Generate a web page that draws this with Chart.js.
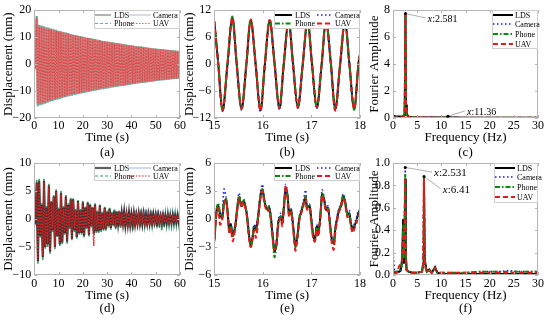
<!DOCTYPE html>
<html><head><meta charset="utf-8">
<script src="https://cdn.jsdelivr.net/npm/chart.js@4.4.1/dist/chart.umd.min.js"></script>
<style>
html,body{margin:0;padding:0;background:#fff;}
#wrap{position:relative;width:550px;height:321px;overflow:hidden;background:#fff;}
canvas{position:absolute;left:0;top:0;}
</style></head><body><div id="wrap">
<canvas id="ca" width="550" height="321"></canvas>
<canvas id="cb" width="550" height="321"></canvas>
<canvas id="cc" width="550" height="321"></canvas>
<canvas id="cd" width="550" height="321"></canvas>
<canvas id="ce" width="550" height="321"></canvas>
<canvas id="cf" width="550" height="321"></canvas>
</div>
<script>
// ---------------- DATA ----------------
const seriesNames = ['LDS','Camera','Phone','UAV'];

const time60 = [0,0.5,1,1.5,2,2.5,3,3.5,4,4.5,5,5.5,6,6.5,7,7.5,8,8.5,9,9.5,
10,10.5,11,11.5,12,12.5,13,13.5,14,14.5,15,15.5,16,16.5,17,17.5,18,18.5,19,19.5,
20,20.5,21,21.5,22,22.5,23,23.5,24,24.5,25,25.5,26,26.5,27,27.5,28,28.5,29,29.5,
30,30.5,31,31.5,32,32.5,33,33.5,34,34.5,35,35.5,36,36.5,37,37.5,38,38.5,39,39.5,
40,40.5,41,41.5,42,42.5,43,43.5,44,44.5,45,45.5,46,46.5,47,47.5,48,48.5,49,49.5,
50,50.5,51,51.5,52,52.5,53,53.5,54,54.5,55,55.5,56,56.5,57,57.5,58,58.5,59,59.5,60];

// (a) free vibration, peaks
const LDS_a = [0,0.8,17.2,-15,14,-14.8,13.8,-14.5,13.6,-14.2,13.3,-13.8,13.1,-13.5,12.9,-13.2,12.6,-12.9,12.4,-12.7,
12.1,-12.4,11.9,-12.2,11.7,-12,11.5,-11.7,11.3,-11.5,11,-11.3,10.8,-11.1,10.6,-10.9,10.4,-10.7,10.2,-10.5,
10,-10.3,9.8,-10.1,9.7,-9.9,9.5,-9.8,9.3,-9.6,9.1,-9.5,8.9,-9.3,8.8,-9.1,8.6,-9,8.4,-8.8,
8.3,-8.7,8.1,-8.5,8,-8.4,7.8,-8.2,7.7,-8.1,7.5,-7.9,7.4,-7.8,7.3,-7.7,7.1,-7.5,7,-7.4,
6.9,-7.3,6.7,-7.1,6.6,-7,6.5,-6.9,6.4,-6.8,6.3,-6.6,6.1,-6.5,6,-6.4,5.9,-6.3,5.8,-6.2,
5.7,-6.1,5.6,-6,5.5,-5.9,5.4,-5.8,5.3,-5.7,5.2,-5.6,5.1,-5.5,5,-5.4,4.9,-5.3,4.8,-5.2,4.7];
const Camera_a = [0.3,-0.5,15.5,-14.6,13.7,-14.5,13.6,-14.2,13.3,-13.9,13.1,-13.6,12.8,-13.2,12.6,-13,12.4,-12.7,12.1,-12.5,
11.9,-12.2,11.7,-11.9,11.4,-11.8,11.3,-11.5,11.1,-11.3,10.8,-11.1,10.6,-10.9,10.4,-10.7,10.2,-10.5,10,-10.3,
9.8,-10.1,9.6,-9.9,9.5,-9.7,9.3,-9.6,9.1,-9.4,8.9,-9.3,8.7,-9.1,8.6,-8.9,8.4,-8.8,8.2,-8.6,
8.1,-8.5,7.9,-8.3,7.8,-8.2,7.6,-8,7.5,-7.9,7.3,-7.7,7.2,-7.6,7.1,-7.5,6.9,-7.3,6.8,-7.2,
6.7,-7.1,6.5,-6.9,6.4,-6.8,6.3,-6.7,6.2,-6.6,6.1,-6.4,5.9,-6.3,5.8,-6.2,5.7,-6.1,5.6,-6,
5.5,-5.9,5.4,-5.8,5.3,-5.7,5.2,-5.6,5.1,-5.5,5,-5.4,4.9,-5.3,4.8,-5.2,4.7,-5.1,4.6,-5,4.5];
const Phone_a = [-0.4,0.6,17.8,-15.6,14.6,-15.3,14.3,-15,14,-14.7,13.7,-14.3,13.5,-14,13.2,-13.7,12.9,-13.4,12.7,-13.2,
12.4,-12.9,12.2,-12.7,11.9,-12.4,11.7,-12.1,11.5,-11.9,11.2,-11.7,11,-11.5,10.8,-11.3,10.6,-11.1,10.4,-10.9,
10.2,-10.7,10,-10.5,9.8,-10.3,9.7,-10.2,9.5,-10,9.3,-9.8,9.1,-9.6,8.9,-9.4,8.7,-9.3,8.6,-9.1,
8.4,-9,8.3,-8.8,8.1,-8.7,8,-8.5,7.8,-8.4,7.7,-8.2,7.5,-8.1,7.4,-8,7.3,-7.8,7.1,-7.7,
7,-7.5,6.9,-7.4,6.7,-7.3,6.6,-7.1,6.5,-7,6.4,-6.9,6.2,-6.8,6.1,-6.6,6,-6.5,5.9,-6.4,
5.8,-6.3,5.7,-6.2,5.6,-6.1,5.5,-6,5.4,-5.9,5.3,-5.8,5.2,-5.7,5.1,-5.6,5,-5.5,4.9,-5.4,4.8];
const UAV_a = [0.5,-1,16.8,-14.8,13.9,-14.6,13.7,-14.3,13.4,-14,13.2,-13.7,13,-13.4,12.7,-13.1,12.5,-12.8,12.3,-12.6,
12,-12.3,11.8,-12.1,11.6,-11.9,11.4,-11.6,11.2,-11.4,10.9,-11.2,10.7,-11,10.5,-10.8,10.3,-10.6,10.1,-10.4,
9.9,-10.2,9.7,-10,9.6,-9.8,9.4,-9.7,9.2,-9.5,9,-9.4,8.8,-9.2,8.7,-9,8.5,-8.9,8.3,-8.7,
8.2,-8.6,8,-8.4,7.9,-8.3,7.7,-8.1,7.6,-8,7.4,-7.8,7.3,-7.7,7.2,-7.6,7,-7.4,6.9,-7.3,
6.8,-7.2,6.6,-7,6.5,-6.9,6.4,-6.8,6.3,-6.7,6.2,-6.5,6,-6.4,5.9,-6.3,5.8,-6.2,5.7,-6.1,
5.6,-6,5.5,-5.9,5.4,-5.8,5.3,-5.7,5.2,-5.6,5.1,-5.5,5,-5.4,4.9,-5.3,4.8,-5.2,4.7,-5.1,4.6];

// (b) zoom 15-18 s
const timeB = [15.00,15.08,15.17,15.27,15.37,15.46,15.56,15.66,15.75,15.85,15.95,16.04,16.14,16.24,16.34,16.43,16.53,
16.62,16.72,16.82,16.92,17.01,17.11,17.21,17.30,17.40,17.49,17.59,17.69,17.78,17.88,17.97,18.00];
const LDS_b = [9.4,0.3,-10.3,-0.2,10.2,0.2,-10.0,-0.1,9.8,0.1,-10.3,-0.2,9.7,0.2,-9.9,-0.1,9.6,0.1,-9.6,-0.2,9.6,0.2,-9.7,-0.1,9.5,0.1,-10.0,-0.2,9.4,0.2,-9.9,0.3,2.0];
const Camera_b = [9.2,0.1,-10.5,-0.3,10.0,0.0,-10.2,-0.2,9.6,0.0,-10.6,-0.3,9.5,0.1,-10.1,-0.2,9.4,0.0,-9.8,-0.3,9.4,0.1,-9.9,-0.2,9.3,0.0,-10.2,-0.3,9.2,0.1,-10.1,0.2,1.8];
const Phone_b = [9.5,0.4,-10.1,0.0,10.6,0.4,-9.8,0.1,10.0,0.3,-10.0,0.0,9.9,0.3,-9.7,0.1,9.8,0.3,-9.4,0.0,9.8,0.3,-9.5,0.1,9.7,0.3,-9.8,0.0,9.6,0.3,-10.2,0.4,2.1];
const UAV_b = [9.6,0.2,-10.2,-0.2,10.3,0.2,-9.9,-0.1,9.9,0.1,-10.4,-0.2,9.8,0.2,-9.8,-0.1,9.7,0.1,-9.7,-0.2,9.7,0.2,-9.6,-0.1,9.6,0.1,-10.4,-0.2,9.5,0.2,-10.0,0.3,2.2];

// (c) spectrum
const freqC = [0,0.5,1,1.5,2,2.3,2.45,2.581,2.7,2.85,3.2,4,5,6,7,7.8,8.5,10,11,11.36,11.8,13,15,18,21,24,27,30];
const LDS_c = [0.15,0.13,0.12,0.11,0.1,0.22,1.6,7.7,1.0,0.3,0.1,0.05,0.04,0.03,0.03,0.04,0.03,0.03,0.05,0.13,0.04,0.03,0.02,0.02,0.02,0.02,0.02,0.02];
const Camera_c = [0.1,0.08,0.07,0.06,0.06,0.15,1.5,7.75,1.0,0.25,0.08,0.04,0.03,0.03,0.04,0.1,0.03,0.03,0.04,0.1,0.03,0.03,0.02,0.02,0.02,0.02,0.02,0.02];
const Phone_c = [0.05,0.05,0.04,0.04,0.05,0.12,1.5,7.7,0.9,0.2,0.06,0.04,0.03,0.03,0.03,0.04,0.03,0.03,0.04,0.08,0.03,0.03,0.02,0.02,0.02,0.02,0.02,0.02];
const UAV_c = [0.04,0.04,0.04,0.04,0.05,0.1,1.4,7.72,0.9,0.2,0.05,0.03,0.03,0.03,0.03,0.03,0.03,0.03,0.03,0.07,0.03,0.02,0.02,0.02,0.02,0.02,0.02,0.02];

// (d) second record, 0-60 s
const LDS_d = [0,-0.5,6.5,-7.5,6.8,-3,2.5,-6.8,6.8,-5,2,-4.5,6,-5.8,3,-2,4,-5,5,-3,
1.8,-4.5,4.6,-4.2,2,-2.5,4,-4,2.5,-1.5,3.5,-3.5,3.5,-2,1.5,-3.2,3.2,-2.5,1.5,-2.5,
3,-3,2,-1.5,2.9,-2.8,2.5,-1.2,2,-2.6,2.6,-2.2,1.2,-2.2,2.4,-2,1,-1.8,2,-1.8,
1.2,-1.2,1.8,-1.6,1,-1,1.5,-1.5,1.2,-0.8,1.3,-1.3,1,-0.8,1.2,-1.1,0.8,-1,1.1,-1,
0.8,-0.9,1,-0.9,0.7,-0.8,0.9,-0.8,0.7,-0.8,0.9,-0.7,0.6,-0.8,0.8,-0.7,0.6,-0.7,0.8,-0.6,
0.6,-0.7,0.7,-0.6,0.5,-0.6,0.7,-0.6,0.5,-0.6,0.6,-0.5,0.5,-0.6,0.6,-0.5,0.5,-0.5,0.6,-0.5,0.4];
const Camera_d = [0.3,-0.3,6.2,-7.2,6.5,-3.2,2.8,-6.5,6.6,-4.8,2.2,-4.6,5.8,-5.6,3.2,-2.2,4.2,-4.8,4.8,-3.2,
2,-4.3,4.4,-4,2.2,-2.7,3.8,-3.8,2.7,-1.7,3.3,-3.3,3.4,-2.2,1.7,-3,3,-2.6,1.7,-2.4,
2.8,-2.8,2.2,-1.7,2.7,-2.6,2.4,-1.4,2.1,-2.4,2.5,-2,1.4,-2,2.2,-1.9,1.3,-1.7,1.9,-1.6,
1.4,-1.3,1.7,-1.5,1.2,-1.1,1.4,-1.4,1.3,-1,1.4,-1.2,1.2,-1,1.3,-1.2,1.1,-1.1,1.3,-1.2,
1.2,-1.1,1.4,-1,1.6,-1.2,1.5,-1.1,1.7,-1,1.8,-1.2,1.7,-1.1,1.6,-1.2,1.5,-1,1.4,-1.1,
1.5,-1.2,1.6,-1.1,1.4,-1,1.2,-1.1,1.1,-1,1.2,-0.9,1,-1,1.1,-0.9,1.2,-1,1.3,-1,1.9,-1.2,1];
const Phone_d = [-0.3,0.2,7,-8,7.2,-3.3,2.8,-7.3,7.2,-5.3,2.3,-5,6.3,-6.2,3.2,-2.3,4.3,-5.4,5.3,-3.2,
2,-4.8,5,-4.5,2.3,-2.8,4.3,-4.4,2.8,-1.8,3.8,-3.8,3.7,-2.3,1.8,-3.5,3.4,-2.8,1.8,-2.8,
3.2,-3.3,2.2,-1.8,3.1,-3.1,2.7,-1.5,2.2,-2.8,2.8,-2.5,1.5,-2.5,2.6,-2.3,1.3,-2.1,2.2,-2.1,
1.5,-1.5,2,-1.9,1.3,-1.3,1.7,-1.8,1.4,-1.1,1.5,-1.6,1.2,-1.2,1.4,-1.5,1,-1.4,1.3,-1.6,
1,-2,1.2,-1.4,0.9,-1.2,1.1,-1.3,0.9,-1.1,1.1,-1.2,0.8,-1.3,1,-1.1,0.8,-1.2,1,-1.3,
0.8,-1.4,0.9,-1.5,0.8,-2,0.9,-1.4,0.8,-1.2,0.9,-1.1,0.8,-1.2,0.9,-1,0.8,-1.1,0.9,-1,0.7];
const UAV_d = [-0.8,1,6.2,-7.3,6.6,-2.8,2.3,-6.6,6.6,-4.8,1.8,-4.3,5.8,-5.6,2.8,-1.8,3.8,-4.8,4.8,-2.8,
1.7,-4.3,4.4,-4,1.8,-2.3,3.8,-3.8,2.3,-1.4,3.3,-3.3,3.3,-1.8,1.4,-3,3,-2.3,1.4,-2.3,
2.8,-2.8,1.8,-1.4,2.7,-2.6,2.3,-1.1,1.9,-4.8,2.4,-2,1.1,-2,2.2,-1.8,1,-1.7,1.8,-1.7,
1.1,-1.1,1.6,-1.5,1,-0.9,1.4,-1.4,1.1,-0.8,1.2,-1.2,0.9,-0.8,1.1,-1,0.8,-0.9,1,-0.9,
0.8,-0.9,0.9,-0.8,0.7,-0.8,0.8,-0.8,0.7,-0.7,0.8,-0.7,0.6,-0.8,0.8,-0.7,0.6,-0.7,0.7,-0.6,
0.6,-0.7,0.7,-0.6,0.5,-0.6,0.6,-0.6,0.5,-0.6,0.6,-0.5,0.5,-0.6,0.6,-0.5,0.5,-0.5,0.6,-0.5,0.4];

// (e) zoom 15-18 s of second record
const timeE = [15.00,15.05,15.08,15.12,15.16,15.20,15.24,15.27,15.31,15.34,
15.38,15.43,15.47,15.51,15.56,15.61,15.67,15.71,15.75,15.79,
15.82,15.86,15.91,15.95,15.99,16.04,16.09,16.13,16.17,16.21,
16.24,16.28,16.32,16.37,16.40,16.44,16.47,16.51,16.54,16.58,
16.63,16.67,16.71,16.75,16.78,16.83,16.88,16.91,16.96,16.99,
17.04,17.07,17.11,17.14,17.18,17.22,17.26,17.30,17.34,17.38,
17.42,17.46,17.49,17.53,17.57,17.61,17.65,17.69,17.74,17.78,
17.81,17.85,17.88,17.93,17.96,18.00];
const LDS_e = [-2.2,1.0,1.4,0.5,0.1,1.7,2.1,1.0,-1.3,-0.6,
-1.7,-0.8,1.0,2.3,1.4,1.9,0.5,-1.5,-2.8,-1.9,
-0.8,-1.1,0.6,2.4,3.1,1.7,1.0,1.2,-0.1,-2.2,
-3.5,-2.6,-0.3,0.3,-0.4,1.7,3.3,2.4,0.5,1.0,
-1.1,-2.9,-1.9,0.1,0.6,1.5,2.3,1.2,1.4,0.3,
-1.9,-2.2,-0.8,-1.5,0.1,2.6,2.1,1.0,1.2,-0.4,
-2.2,-2.6,-1.1,0.1,1.0,1.4,2.4,1.9,0.5,0.6,
-0.4,-1.1,-0.8,-0.1,0.5,1.0];
const Camera_e = [-2.0,1.2,1.5,0.6,0.3,3.2,2.4,1.1,-1.2,-0.5,
-1.5,-0.6,1.3,2.8,1.6,2.1,0.7,-1.3,-2.6,-1.7,
-0.6,-0.9,0.9,2.9,3.7,1.9,1.2,1.4,0.1,-2.0,
-3.2,-2.3,-0.1,0.6,-0.2,2.0,3.7,2.7,0.7,1.2,
-0.9,-2.7,-1.7,0.3,0.9,1.8,3.1,1.5,1.6,0.5,
-1.7,-2.0,-0.6,-1.3,0.3,3.1,2.4,1.2,1.4,-0.2,
-2.0,-2.4,-0.9,0.3,1.2,1.6,2.7,2.1,0.7,0.9,
-0.2,-0.9,-0.6,0.2,0.8,1.0];
const Phone_e = [-2.3,1.1,1.7,0.6,0.1,1.8,2.2,1.0,-1.4,-0.7,
-1.9,-0.9,1.0,2.5,1.5,2.0,0.4,-1.6,-3.0,-2.0,
-0.9,-1.2,0.6,2.5,3.2,1.8,1.0,1.3,-0.2,-2.5,
-4.1,-2.8,-0.4,0.3,-0.5,1.8,3.4,2.4,0.4,1.0,
-1.2,-3.0,-2.0,0.0,0.6,1.6,2.4,1.2,1.5,0.2,
-2.0,-2.4,-0.9,-1.6,0.0,2.7,2.2,1.0,1.3,-0.5,
-2.3,-2.8,-1.2,0.0,1.0,1.5,2.5,2.0,0.4,0.6,
-0.5,-1.2,-0.9,-0.2,0.4,0.9];
const UAV_e = [-2.4,0.8,1.2,-0.6,-0.2,1.5,2.0,0.8,-1.6,-1.0,
-2.4,-1.0,0.8,2.2,1.2,1.8,0.3,-1.8,-3.0,-2.2,
-1.2,-2.0,0.3,2.2,3.0,1.5,0.8,1.0,-0.4,-2.5,
-3.3,-2.9,-0.6,0.1,-0.8,1.5,3.6,2.2,0.2,0.8,
-1.4,-3.4,-2.2,-0.2,0.4,1.3,2.2,1.0,1.2,0.0,
-2.2,-2.4,-1.1,-1.9,-0.2,2.5,1.9,0.8,1.0,-0.7,
-2.6,-3.3,-1.5,-0.2,0.8,1.2,2.2,1.7,0.2,0.3,
-0.7,-1.5,-1.1,-0.4,0.2,0.7];

// (f) spectrum of second record
const freqF = [0,0.3,0.8,1.3,1.6,1.9,2.1,2.25,2.4,2.531,2.65,2.8,3.2,4,5,6,6.25,6.41,6.55,6.7,7,7.5,8,8.7,9.2,10,12,15,18,20,22,24,26,28,30];
const LDS_f = [0.02,0.02,0.03,0.03,0.04,0.15,0.5,0.1,0.3,0.86,0.2,0.05,0.03,0.02,0.02,0.03,0.1,0.87,0.15,0.1,0.03,0.05,0.02,0.07,0.02,0.01,0.01,0.01,0.01,0.01,0.01,0.01,0.01,0.01,0.01];
const Camera_f = [0.2,0.05,0.03,0.03,0.04,0.1,0.4,0.2,0.5,0.96,0.2,0.05,0.03,0.02,0.02,0.03,0.1,0.88,0.15,0.08,0.03,0.04,0.02,0.06,0.02,0.02,0.02,0.02,0.03,0.03,0.03,0.04,0.03,0.03,0.03];
const Phone_f = [0.04,0.03,0.03,0.04,0.05,0.1,0.45,0.15,0.4,0.9,0.2,0.05,0.03,0.02,0.02,0.03,0.1,0.88,0.15,0.08,0.03,0.04,0.02,0.06,0.02,0.02,0.02,0.02,0.03,0.03,0.03,0.03,0.03,0.03,0.03];
const UAV_f = [0.01,0.01,0.02,0.08,0.1,0.12,0.35,0.2,0.45,0.87,0.15,0.04,0.03,0.02,0.02,0.03,0.1,0.86,0.12,0.07,0.03,0.04,0.02,0.06,0.02,0.02,0.02,0.02,0.02,0.02,0.02,0.02,0.02,0.02,0.02];

// peak labels
const peaksC = [{x:2.581, y:7.75, label:':2.581'}, {x:11.36, y:0.13, label:':11.36'}];
const peaksF = [{x:2.531, y:0.96, label:':2.531'}, {x:6.41, y:0.88, label:':6.41'}];

// ---------------- STYLE / LAYOUT ----------------
const FONT = "'Liberation Serif','Times New Roman',serif";
const thinA = [
  {c:'#cc8080', w:2.6, d:[]}, {c:'#a6b4c0', w:1.2, d:[]},
  {c:'#55b09c', w:2.2, d:[]}, {c:'#e04848', w:1.3, d:[1.5,1.5]}];
const thinD = [
  {c:'#3c3434', w:2.2, d:[]}, {c:'#8d96e0', w:1.4, d:[]},
  {c:'#3a9a6a', w:1.6, d:[]}, {c:'#e02020', w:1.4, d:[1.5,1.5]}];
const bold = [
  {c:'#000000', w:2, d:[]}, {c:'#1c1cd0', w:1.6, d:[1.5,2.5]},
  {c:'#0a8a0a', w:2, d:[5,2,1.5,2]}, {c:'#e41a1a', w:2, d:[5,3]}];
const legA = ['#666666','#b8b8c4','#5fb3a0','#e26a6a'];
const legD = ['#606060','#a8b0e8','#3a9a6a','#e02020'];
const dashA = [[],[],[3,2],[1.5,1.5]];
const orderThin = [4,6,5,1];
const orderBold = [4,3,2,1];

const cols = [{pl:0.8, yw:33.5, pr:370}, {pl:181.8, yw:32.5, pr:190}, {pl:367.5, yw:25.5, pr:12}];
const rows = [{pt:9, xh:42.5, pb:160.5, lh:1.15, tp:1}, {pt:163, xh:39.8, pb:6.2, lh:1.0, tp:1.3}];

const leg2 = (w,h,r0,r1,c1,l0,l1,pal,lw) => ({w:w, h:h, fs:8, pal:pal, lw:lw, dash: pal ? dashA : null, items:[
  {x0:1, x1:l0, tx:l0+3, y:r0}, {x0:c1, x1:c1+l1, tx:c1+l1+2, y:r0},
  {x0:1, x1:l0, tx:l0+3, y:r1}, {x0:c1, x1:c1+l1, tx:c1+l1+2, y:r1}]});
const leg4 = (w,h,ys) => ({w:w, h:h, fs:8, items: ys.map(y => ({x0:1, x1:21, tx:23, y:y}))});

const fmtMinus = v => (v < 0 ? '\u2212' + Math.abs(v) : String(v));

const panels = [
  {id:'ca', col:0, row:0, xs:time60, ys:[LDS_a,Camera_a,Phone_a,UAV_a], st:thinA, ord:orderThin, tension:0,
   x:[0,60,10], y:[-20,20,10], xt:['Time (s)','(a)'], yt:'Displacement (mm)', leg:leg2(86,19,5,13.5,33,17,24,legA,[1,1,1,1])},
  {id:'cb', col:1, row:0, xs:timeB, ys:[LDS_b,Camera_b,Phone_b,UAV_b], st:bold, ord:orderBold, tension:0.35,
   x:[15,18,1], y:[-12,12,6], xt:['Time (s)','(b)'], yt:'Displacement (mm)', leg:leg2(86,19,5,13.5,43,18,16)},
  {id:'cc', col:2, row:0, xs:freqC, ys:[LDS_c,Camera_c,Phone_c,UAV_c], st:bold, ord:orderBold, tension:0,
   x:[0,30,5], y:[0,8,2], xt:['Frequency (Hz)','(c)'], yt:'Fourier Amplitude', leg:leg4(46,39,[5,14,24,34]),
   notes:{pts:peaksC, fs:10, pos:[[7.2,7.35],[15.3,0.45]]}},
  {id:'cd', col:0, row:1, xs:time60, ys:[LDS_d,Camera_d,Phone_d,UAV_d], st:thinD, ord:orderThin, tension:0,
   x:[0,60,10], y:[-10,10,5], xt:['Time (s)','(d)'], yt:'Displacement (mm)', leg:leg2(86,18,5,13,33,17,24,legD,[2.2,1,1,1.2])},
  {id:'ce', col:1, row:1, xs:timeE, ys:[LDS_e,Camera_e,Phone_e,UAV_e], st:bold, ord:orderBold, tension:0.3,
   x:[15,18,1], y:[-6,6,3], xt:['Time (s)','(e)'], yt:'Displacement (mm)', leg:leg2(86,18,5,13,43,18,16)},
  {id:'cf', col:2, row:1, xs:freqF, ys:[LDS_f,Camera_f,Phone_f,UAV_f], st:bold, ord:orderBold, tension:0,
   x:[0,30,5], y:[0,1,0.2], xt:['Frequency (Hz)','(f)'], yt:'Fourier Amplitude', leg:leg4(44,40,[5,14,24,34]),
   notes:{pts:peaksF, fs:11, pos:[[8.5,0.91],[10.3,0.76]]}, yfmt: v => v.toFixed(1)}
];

// ---------------- PLUGINS ----------------
const framePlugin = {
  id:'frame',
  afterDatasetsDraw(chart) {
    const {ctx, chartArea:a, scales} = chart;
    ctx.save();
    ctx.strokeStyle = '#b4b4b4'; ctx.lineWidth = 1; ctx.setLineDash([]);
    ctx.strokeRect(Math.round(a.left)+0.5, Math.round(a.top)+0.5, Math.round(a.right-a.left)-1, Math.round(a.bottom-a.top)-1);
    ctx.beginPath();
    const xs = scales.x, ys = scales.y;
    xs.ticks.forEach((t,i) => { const p = Math.round(xs.getPixelForTick(i))+0.5;
      ctx.moveTo(p, a.bottom); ctx.lineTo(p, a.bottom-3); ctx.moveTo(p, a.top); ctx.lineTo(p, a.top+3); });
    ys.ticks.forEach((t,i) => { const p = Math.round(ys.getPixelForTick(i))+0.5;
      ctx.moveTo(a.left, p); ctx.lineTo(a.left+3, p); ctx.moveTo(a.right, p); ctx.lineTo(a.right-3, p); });
    ctx.stroke();
    ctx.restore();
  }
};
const notesPlugin = {
  id:'notes',
  afterDatasetsDraw(chart, args, o) {
    if (!o || !o.pts) return;
    const {ctx, scales:{x, y}} = chart;
    ctx.save();
    o.pts.forEach((p, i) => {
      const px = x.getPixelForValue(p.x), py = y.getPixelForValue(p.y);
      const tx = x.getPixelForValue(o.pos[i][0]), ty = y.getPixelForValue(o.pos[i][1]);
      ctx.strokeStyle = '#9a9a9a'; ctx.lineWidth = 0.8; ctx.setLineDash([]);
      ctx.beginPath(); ctx.moveTo(px, py); ctx.lineTo(tx - 2, ty - 1); ctx.stroke();
      ctx.fillStyle = '#000'; ctx.beginPath(); ctx.arc(px, py, 1.5, 0, Math.PI*2); ctx.fill();
      ctx.textBaseline = 'middle';
      ctx.font = 'italic ' + o.fs + 'px ' + FONT;
      ctx.fillText('x', tx, ty);
      const w = ctx.measureText('x').width;
      ctx.font = o.fs + 'px ' + FONT;
      ctx.fillText(p.label, tx + w, ty);
    });
    ctx.restore();
  }
};
const legendPlugin = {
  id:'boxLegend',
  afterDraw(chart, args, o) {
    if (!o || !o.items) return;
    const {ctx, chartArea:a} = chart;
    const bx = Math.round(a.right - o.w), by = Math.round(a.top);
    ctx.save();
    ctx.fillStyle = '#fff'; ctx.fillRect(bx, by, o.w, o.h);
    ctx.strokeStyle = '#c4c4c4'; ctx.lineWidth = 0.8; ctx.setLineDash([]);
    ctx.strokeRect(bx+0.5, by+0.5, o.w-1, o.h-1);
    ctx.font = o.fs + 'px ' + FONT; ctx.textBaseline = 'middle';
    o.items.forEach((it, i) => {
      const ds = chart.data.datasets[i];
      const yy = by + it.y;
      ctx.beginPath(); ctx.setLineDash(o.dash ? o.dash[i] : (ds.borderDash || []));
      ctx.strokeStyle = o.pal ? o.pal[i] : ds.borderColor;
      ctx.lineWidth = o.lw ? o.lw[i] : Math.max(ds.borderWidth, 1.2);
      ctx.moveTo(bx + it.x0, yy); ctx.lineTo(bx + it.x1, yy); ctx.stroke();
      ctx.setLineDash([]); ctx.fillStyle = '#000';
      ctx.fillText(ds.label, bx + it.tx, yy + 0.5);
    });
    ctx.restore();
  }
};

// ---------------- BUILD ----------------
panels.forEach(p => {
  const c = cols[p.col], r = rows[p.row];
  const datasets = p.ys.map((vals, k) => ({
    label: seriesNames[k],
    data: vals.map((v, i) => ({x: p.xs[i], y: v})),
    borderColor: p.st[k].c, borderWidth: p.st[k].w, borderDash: p.st[k].d,
    pointRadius: 0, fill: false, tension: p.tension, order: p.ord[k]
  }));
  new Chart(document.getElementById(p.id), {
    type: 'line',
    data: {datasets},
    plugins: [framePlugin, notesPlugin, legendPlugin],
    options: {
      responsive: false, animation: false, devicePixelRatio: 1, parsing: true,
      layout: {padding: {left: c.pl, right: c.pr, top: r.pt, bottom: r.pb}},
      plugins: {legend: {display: false}, tooltip: {enabled: false}, boxLegend: p.leg, notes: p.notes || {}},
      scales: {
        x: {type: 'linear', min: p.x[0], max: p.x[1],
            ticks: {stepSize: p.x[2], color: '#000', font: {family: FONT, size: 12}, padding: r.tp, maxRotation: 0, autoSkip: false, callback: fmtMinus},
            grid: {display: false, drawTicks: false}, border: {display: false},
            title: {display: true, text: p.xt, color: '#000', font: {family: FONT, size: 13, lineHeight: r.lh}, padding: 0},
            afterFit: s => { s.height = r.xh; }},
        y: {type: 'linear', min: p.y[0], max: p.y[1],
            ticks: {stepSize: p.y[2], color: '#000', font: {family: FONT, size: 12}, padding: 3, autoSkip: false,
                    callback: p.yfmt ? p.yfmt : fmtMinus},
            grid: {display: false, drawTicks: false}, border: {display: false},
            title: {display: true, text: p.yt, color: '#000', font: {family: FONT, size: 13, lineHeight: 1.15}, padding: 0},
            afterFit: s => { s.width = c.yw; }}
      }
    }
  });
});
</script>
</body></html>
